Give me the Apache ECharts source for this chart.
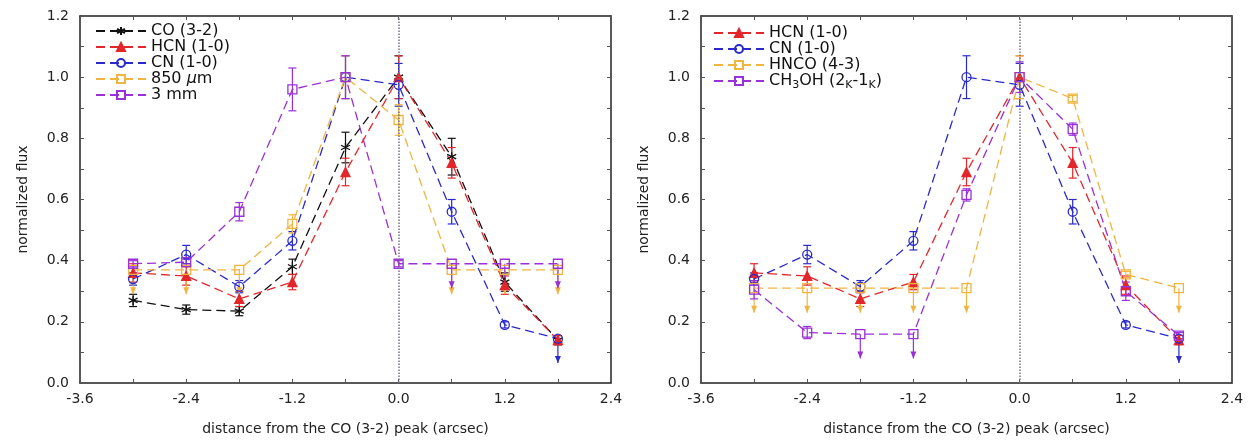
<!DOCTYPE html>
<html>
<head>
<meta charset="utf-8">
<script src="https://cdn.jsdelivr.net/npm/echarts@6/dist/echarts.min.js"></script>
<style>
  html, body { margin: 0; padding: 0; background: #fff; }
  #chart { width: 1249px; height: 442px; }
</style>
</head>
<body>
<div id="chart"></div>
<script>
// offsets from the CO (3-2) peak, arcsec
const offsets = [-3.0, -2.4, -1.8, -1.2, -0.6, 0.0, 0.6, 1.2, 1.8];

// left panel
const coVal   = [0.27, 0.24, 0.235, 0.38, 0.77, 1.00, 0.74, 0.33, 0.14];
const coErr   = [0.02, 0.015, 0.015, 0.025, 0.05, 0.07, 0.06, 0.03, 0.015];
const hcnVal  = [0.36, 0.35, 0.275, 0.33, 0.69, 1.00, 0.72, 0.32, 0.14];
const hcnErr  = [0.03, 0.03, 0.025, 0.025, 0.045, 0.07, 0.05, 0.03, 0.015];
const cnVal   = [0.34, 0.42, 0.315, 0.465, 1.00, 0.975, 0.56, 0.19, 0.145];
const cnErr   = [0.02, 0.03, 0.02, 0.03, 0.07, 0.07, 0.04, 0.01, 0];
const cnLim   = [0, 0, 0, 0, 0, 0, 0, 0, 1];
const smmVal  = [0.37, 0.37, 0.37, 0.52, 1.00, 0.86, 0.37, 0.37, 0.37];
const smmErr  = [0, 0, 0, 0.03, 0.07, 0.05, 0, 0, 0];
const smmLim  = [1, 1, 1, 0, 0, 0, 1, 1, 1];
const mm3Val  = [0.39, 0.395, 0.56, 0.96, 1.00, 0.39, 0.39, 0.39, 0.39];
const mm3Err  = [0.01, 0.01, 0.03, 0.07, 0.07, 0.01, 0, 0, 0];
const mm3Lim  = [0, 0, 0, 0, 0, 0, 1, 1, 1];

// right panel
const hncoVal  = [0.31, 0.31, 0.31, 0.31, 0.31, 1.00, 0.93, 0.355, 0.31];
const hncoErr  = [0, 0, 0, 0, 0, 0.07, 0.01, 0.01, 0];
const hncoLim  = [1, 1, 1, 1, 1, 0, 0, 0, 1];
const ch3ohVal = [0.305, 0.165, 0.16, 0.16, 0.615, 1.00, 0.83, 0.30, 0.155];
const ch3ohErr = [0.03, 0.02, 0, 0, 0.02, 0.05, 0.02, 0.03, 0.01];
const ch3ohLim = [0, 0, 1, 1, 0, 0, 0, 0, 0];
const noLim    = [0, 0, 0, 0, 0, 0, 0, 0, 0];

const leftNames  = ['CO (3-2)', 'HCN (1-0)', 'CN (1-0)', '850 um', '3 mm'];
const rightNames = ['HCN (1-0)', 'CN (1-0)', 'HNCO (4-3)', 'CH3OH (2k-1k)'];

const FONT = 'DejaVu Sans';
const ARROW = 0.08;  // length of upper-limit arrows (data units)
const C = { co: '#111111', hcn: '#e3262b', cn: '#2a2acc', yel: '#f0b440', pur: '#9a30d8' };

const SYM = {
  star: 'path://M5,0V10M0.7,2.5L9.3,7.5M0.7,7.5L9.3,2.5',
  rect: 'path://M0,0H10V10H0Z',
  circ: 'path://M0,5A5,5 0 1 0 10,5A5,5 0 1 0 0,5Z'
};

const chart = echarts.init(document.getElementById('chart'));

function lineSeries(name, g, vals, color, symbol, size, filled) {
  return {
    name, type: 'line', xAxisIndex: g * 2, yAxisIndex: g * 2,
    data: offsets.map((x, i) => [x, vals[i]]),
    symbol, symbolSize: size, z: 3,
    lineStyle: { color, width: 1.3, type: [9, 5] },
    itemStyle: { color: filled ? color : 'rgba(0,0,0,0)', borderColor: color, borderWidth: 1.3 }
  };
}

function errSeries(g, vals, errs, lims, color) {
  return {
    type: 'custom', xAxisIndex: g * 2, yAxisIndex: g * 2, silent: true, z: 2,
    data: offsets.map((x, i) => [x, vals[i], errs[i], lims[i]]),
    renderItem(params, api) {
      const x = api.value(0), v = api.value(1), e = api.value(2), lim = api.value(3);
      const style = { stroke: color, lineWidth: 1.2, fill: null };
      const ch = [];
      if (e > 0) {
        const a = api.coord([x, v + e]), b = api.coord([x, v - e]);
        ch.push({ type: 'line', shape: { x1: a[0], y1: a[1], x2: b[0], y2: b[1] }, style });
        ch.push({ type: 'line', shape: { x1: a[0] - 4, y1: a[1], x2: a[0] + 4, y2: a[1] }, style });
        ch.push({ type: 'line', shape: { x1: b[0] - 4, y1: b[1], x2: b[0] + 4, y2: b[1] }, style });
      }
      if (lim) {
        const a = api.coord([x, v]), b = api.coord([x, v - ARROW]);
        ch.push({ type: 'line', shape: { x1: a[0], y1: a[1], x2: b[0], y2: b[1] }, style });
        ch.push({ type: 'polygon', shape: { points: [[b[0] - 3, b[1] - 7], [b[0] + 3, b[1] - 7], [b[0], b[1]]] },
                  style: { fill: color } });
      }
      return { type: 'group', children: ch };
    }
  };
}

const zeroLine = {
  silent: true, symbol: ['none', 'none'], label: { show: false },
  lineStyle: { type: 'dotted', color: '#7a7088', width: 1.5 },
  data: [{ xAxis: 0 }]
};

function xAxes(g) {
  const base = {
    gridIndex: g, type: 'value', min: -3.6, max: 2.4, interval: 1.2, splitLine: { show: false },
    axisLine: { show: true, onZero: false, lineStyle: { color: '#222', width: 1.5 } },
    axisTick: { show: true, inside: true, length: 4, lineStyle: { color: '#555' } },
    minorTick: { show: true, splitNumber: 2, length: 4, lineStyle: { color: '#555' } }
  };
  return [
    Object.assign({}, base, {
      position: 'bottom', name: 'distance from the CO (3-2) peak (arcsec)', nameLocation: 'middle', nameGap: 39,
      nameTextStyle: { fontFamily: FONT, fontSize: 14, color: '#222' },
      axisLabel: { fontFamily: FONT, fontSize: 14, color: '#222', margin: 9, formatter: v => v.toFixed(1) }
    }),
    Object.assign({}, base, { position: 'top', axisLabel: { show: false } })
  ];
}

function yAxes(g) {
  const base = {
    gridIndex: g, type: 'value', min: 0, max: 1.2, interval: 0.2, splitLine: { show: false },
    axisLine: { show: true, onZero: false, lineStyle: { color: '#222', width: 1.5 } },
    axisTick: { show: true, inside: true, length: 4, lineStyle: { color: '#555' } },
    minorTick: { show: true, splitNumber: 2, length: 4, lineStyle: { color: '#555' } }
  };
  return [
    Object.assign({}, base, {
      position: 'left', name: 'normalized flux', nameLocation: 'middle', nameGap: 50,
      nameTextStyle: { fontFamily: FONT, fontSize: 14, color: '#222' },
      axisLabel: { fontFamily: FONT, fontSize: 14, color: '#222', margin: 11, formatter: v => v.toFixed(1) }
    }),
    Object.assign({}, base, { position: 'right', axisLabel: { show: false } })
  ];
}

function legendFmt(name) {
  if (name === '850 um') return '850 {i|\u03bc}m';
  if (name === 'CH3OH (2k-1k)') return '{n|CH}{s|3}{n|OH (2}{s|K}{n|-1}{s|K}{n|)}';
  return name;
}

function legend(names, left, top) {
  return {
    data: names, left, top, orient: 'vertical', selectedMode: false,
    itemWidth: 50, itemHeight: 10, itemGap: 0, padding: 0,
    formatter: legendFmt,
    textStyle: {
      fontFamily: FONT, fontSize: 16, color: '#111', lineHeight: 13,
      rich: {
        i: { fontFamily: FONT, fontSize: 16, fontStyle: 'italic', color: '#111' },
        n: { fontFamily: FONT, fontSize: 16, color: '#111', lineHeight: 13 },
        s: { fontFamily: FONT, fontSize: 11, color: '#111', padding: [9, 0, 0, 0] }
      }
    }
  };
}

const left0 = lineSeries('CO (3-2)', 0, coVal, C.co, SYM.star, 9, false);
left0.markLine = zeroLine;
const right0 = lineSeries('HCN (1-0)', 1, hcnVal, C.hcn, 'triangle', 9, true);
right0.markLine = zeroLine;

const option = {
  animation: false,
  backgroundColor: '#fff',
  grid: [
    { left: 80, top: 16, width: 531, height: 367 },
    { left: 701, top: 16, width: 531, height: 367 }
  ],
  xAxis: xAxes(0).concat(xAxes(1)),
  yAxis: yAxes(0).concat(yAxes(1)),
  legend: [legend(leftNames, 95, 23), legend(rightNames, 713, 25)],
  series: [
    errSeries(0, coVal, coErr, noLim, C.co),
    errSeries(0, hcnVal, hcnErr, noLim, C.hcn),
    errSeries(0, cnVal, cnErr, cnLim, C.cn),
    errSeries(0, smmVal, smmErr, smmLim, C.yel),
    errSeries(0, mm3Val, mm3Err, mm3Lim, C.pur),
    left0,
    lineSeries('HCN (1-0)', 0, hcnVal, C.hcn, 'triangle', 9, true),
    lineSeries('CN (1-0)', 0, cnVal, C.cn, SYM.circ, 9, false),
    lineSeries('850 um', 0, smmVal, C.yel, SYM.rect, 9, false),
    lineSeries('3 mm', 0, mm3Val, C.pur, SYM.rect, 9, false),

    errSeries(1, hcnVal, hcnErr, noLim, C.hcn),
    errSeries(1, cnVal, cnErr, cnLim, C.cn),
    errSeries(1, hncoVal, hncoErr, hncoLim, C.yel),
    errSeries(1, ch3ohVal, ch3ohErr, ch3ohLim, C.pur),
    right0,
    lineSeries('CN (1-0)', 1, cnVal, C.cn, SYM.circ, 9, false),
    lineSeries('HNCO (4-3)', 1, hncoVal, C.yel, SYM.rect, 9, false),
    lineSeries('CH3OH (2k-1k)', 1, ch3ohVal, C.pur, SYM.rect, 9, false)
  ]
};

chart.setOption(option);
</script>
</body>
</html>
